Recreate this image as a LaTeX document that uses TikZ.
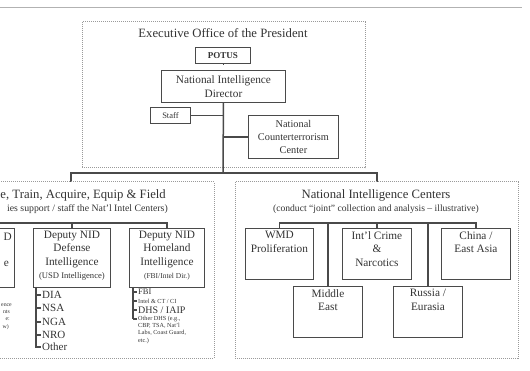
\documentclass[tikz,border=0pt]{standalone}
\usepackage{fontspec}
\setmainfont{Liberation Serif}
\definecolor{linec}{HTML}{4A4A4A}
\definecolor{textc}{HTML}{333333}
\definecolor{dotc}{HTML}{9A9A9A}
\newcommand{\fs}[2]{\fontsize{#1}{#2}\selectfont}
\begin{document}
\begin{tikzpicture}[x=1pt,y=-1pt,
  box/.style={draw=linec, line width=0.9pt, inner sep=0pt, anchor=north west, text=textc, align=center},
  conn/.style={draw=linec, line width=1.5pt},
  thin/.style={draw=linec, line width=1.1pt},
  dotbox/.style={draw=dotc, densely dotted, line width=1pt},
  txt/.style={text=textc, align=center, inner sep=0pt, font=\fs{11.3}{13.6}},
  small/.style={text=textc, align=left, inner sep=0pt, anchor=west},
]
\useasboundingbox (0,0) rectangle (530,371);
\clip (0,0) rectangle (530,371);
% top rule
\draw[draw=gray!60, line width=1pt] (0,8) -- (522,8);

% Executive Office of the President
\draw[dotbox] (82,22) rectangle (365,168);
\node[txt, font=\fs{12.7}{15}] (eoptitle) at (223,33) {Executive Office of the President};
\node[box, minimum width=55pt, minimum height=16pt, font=\bfseries\fs{9}{10}] (potus) at (195,47) {POTUS};
\node[box, minimum width=124pt, minimum height=32pt, font=\fs{11.3}{14}] (nid) at (161,70) {National Intelligence\\Director};
\node[box, minimum width=40pt, minimum height=16pt, font=\fs{8.5}{10}] (staff) at (150,107) {Staff};
\node[box, minimum width=90pt, minimum height=43pt, font=\fs{10.3}{13}] (ncc) at (248,115) {National\\Counterterrorism\\Center};
\coordinate (trunkbot) at (223,173);
\draw[conn] (potus.south) -- (nid.south |- potus.south) ;
\draw[conn] (nid.south) -- (trunkbot);
\draw[conn] (staff.east) -- (staff.east -| trunkbot);
\draw[conn] (ncc.west) -- (ncc.west -| trunkbot);

% main bus
\coordinate (busl) at (71,173);
\coordinate (busr) at (377,173);
\coordinate (leftin) at (71,182);
\coordinate (rightin) at (377,182);
\draw[conn] (leftin) -- (busl) -- (busr) -- (rightin);

% Left box
\draw[dotbox] (-6,182) rectangle (214,358);
\node[txt, anchor=east, font=\fs{12.7}{15}] (lefttitle) at (166,195) {e, Train, Acquire, Equip \& Field};
\node[txt, anchor=east, font=\fs{9.8}{11}] (leftsub) at (168,209) {ies support / staff the Nat'l Intel Centers)};

\node[box, minimum width=44pt, minimum height=59pt] (dep1) at (-30,228) {};
\node[txt, anchor=east] (dep1a) at (12,237) {D};
\node[txt, anchor=east] (dep1b) at (9,264) {e};

\node[box, minimum width=77pt, minimum height=59pt] (defense) at (33,228) {};
\node[txt, anchor=north] (defensetxt) at ([yshift=-2.5pt]defense.north) {Deputy NID\\Defense\\Intelligence\\{\fs{8.6}{10}(USD Intelligence)}};

\node[box, minimum width=75pt, minimum height=59pt] (homeland) at (129,228) {};
\node[txt, anchor=north] (homelandtxt) at ([yshift=-2.5pt]homeland.north) {Deputy NID\\Homeland\\Intelligence\\{\fs{7.5}{10}(FBI/Intel Dir.)}};

\coordinate (subl) at (0,223);
\draw[conn] (subl) -- (homeland.north |- subl) -- (homeland.north);
\draw[conn] (defense.north |- subl) -- (defense.north);

% fragments below first box
\node[small, anchor=east, font=\fs{5.8}{7}] (f1) at (12,305) {ence};
\node[small, anchor=east, font=\fs{5.8}{7}] (f2) at (10,312) {nts};
\node[small, anchor=east, font=\fs{5.8}{7}] (f3) at (10,319) {e:};
\node[small, anchor=east, font=\fs{5.8}{7}] (f4) at (9,327) {w)};

% Defense list
\coordinate (dl0) at (36,287);
\coordinate (dl5) at (36,347);
\draw[thin] (dl0) -- (dl5) -- ++(5,0);
\foreach \yy/\nm/\t in {295/dia/DIA,308/nsa/NSA,322/nga/NGA,335/nro/NRO,347/oth/Other}{
  \draw[thin] (36,\yy) -- (41,\yy);
  \node[small, font=\fs{11}{12}] (\nm) at (42,\yy) {\t};
}

% Homeland list
\draw[conn] (133,287) -- (133,319);
\foreach \yy in {292,301,310,319}{ \draw[thin] (133,\yy) -- (137,\yy); }
\node[small, font=\fs{8.5}{9}] (fbi) at (138,292) {FBI};
\node[small, font=\fs{6.2}{7}] (intel) at (138,301) {Intel \& CT / CI};
\node[small, font=\fs{10}{11}] (dhs) at (138,310) {DHS / IAIP};
\node[small, anchor=north west, font=\fs{6.2}{7.2}] (otherdhs) at (138,316) {Other DHS (e.g.,\\CBP, TSA, Nat'l\\Labs, Coast Guard,\\etc.)};

% Right box
\draw[dotbox] (235,182) rectangle (518,358);
\node[txt, font=\fs{12.7}{15}] (righttitle) at (376,195) {National Intelligence Centers};
\node[txt, font=\fs{9.6}{11}] (rightsub) at (376,209) {(conduct ``joint'' collection and analysis -- illustrative)};

\node[box, minimum width=68pt, minimum height=51pt] (wmd) at (245,228) {};
\node[txt, anchor=north] (wmdt) at ([yshift=-3pt]wmd.north) {WMD\\Proliferation};
\node[box, minimum width=69pt, minimum height=51pt] (crime) at (342,228) {};
\node[txt, anchor=north] (crimet) at ([yshift=-3pt]crime.north) {Int'l Crime\\\&\\Narcotics};
\node[box, minimum width=69pt, minimum height=51pt] (china) at (441,228) {};
\node[txt, anchor=north] (chinat) at ([yshift=-3pt]china.north) {China /\\East Asia};
\node[box, minimum width=69pt, minimum height=51pt] (mideast) at (293,286) {};
\node[txt, anchor=north] (mideastt) at ([yshift=-3pt]mideast.north) {Middle\\East};
\node[box, minimum width=69pt, minimum height=51pt] (russia) at (393,286) {};
\node[txt, anchor=north] (russiat) at ([yshift=-3pt]russia.north) {Russia /\\Eurasia};

\coordinate (rbus) at (0,223);
\draw[conn] (wmd.north) -- (wmd.north |- rbus) -- (china.north |- rbus) -- (china.north);
\draw[conn] (crime.north |- rbus) -- (crime.north);
\draw[conn] (mideast.north |- rbus) -- (mideast.north);
\draw[conn] (russia.north |- rbus) -- (russia.north);
\end{tikzpicture}
\end{document}
